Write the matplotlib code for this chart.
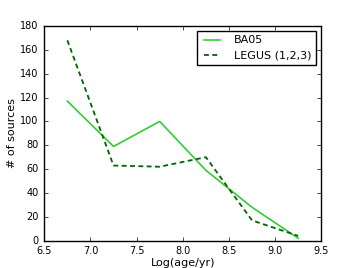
import numpy as np
import matplotlib
matplotlib.use('Agg')
import matplotlib.pyplot as plt

plt.style.use('classic')

log_age = [6.75, 7.25, 7.75, 8.25, 8.75, 9.25]
ba05 = [117, 79, 100, 59, 28, 2]
legus = [168, 63, 62, 70, 17, 4]

fig = plt.figure(figsize=(3.57, 2.68), dpi=100, facecolor='white')
ax = fig.add_axes([0.124, 0.102, 0.776, 0.801])
ax.plot(log_age, ba05, color='#33cc33', lw=1.2, label='BA05')
ax.plot(log_age, legus, '--', color='#006400', lw=1.3, dashes=(3.5, 2.5),
        label='LEGUS (1,2,3)')
ax.set_xlim(6.5, 9.5)
ax.set_ylim(0, 180)
ax.set_xticks(np.arange(6.5, 9.51, 0.5))
ax.set_yticks(np.arange(0, 181, 20))
ax.tick_params(labelsize=7, length=3)
ax.set_xlabel('Log(age/yr)', fontsize=8, labelpad=1)
ax.set_ylabel('# of sources', fontsize=8, labelpad=2)
ax.legend(loc='upper right', fontsize=8, handlelength=2.0, borderpad=0.4,
          labelspacing=0.5, handletextpad=1.0, borderaxespad=0.45)
fig.savefig('out.png', dpi=100, facecolor='white')
